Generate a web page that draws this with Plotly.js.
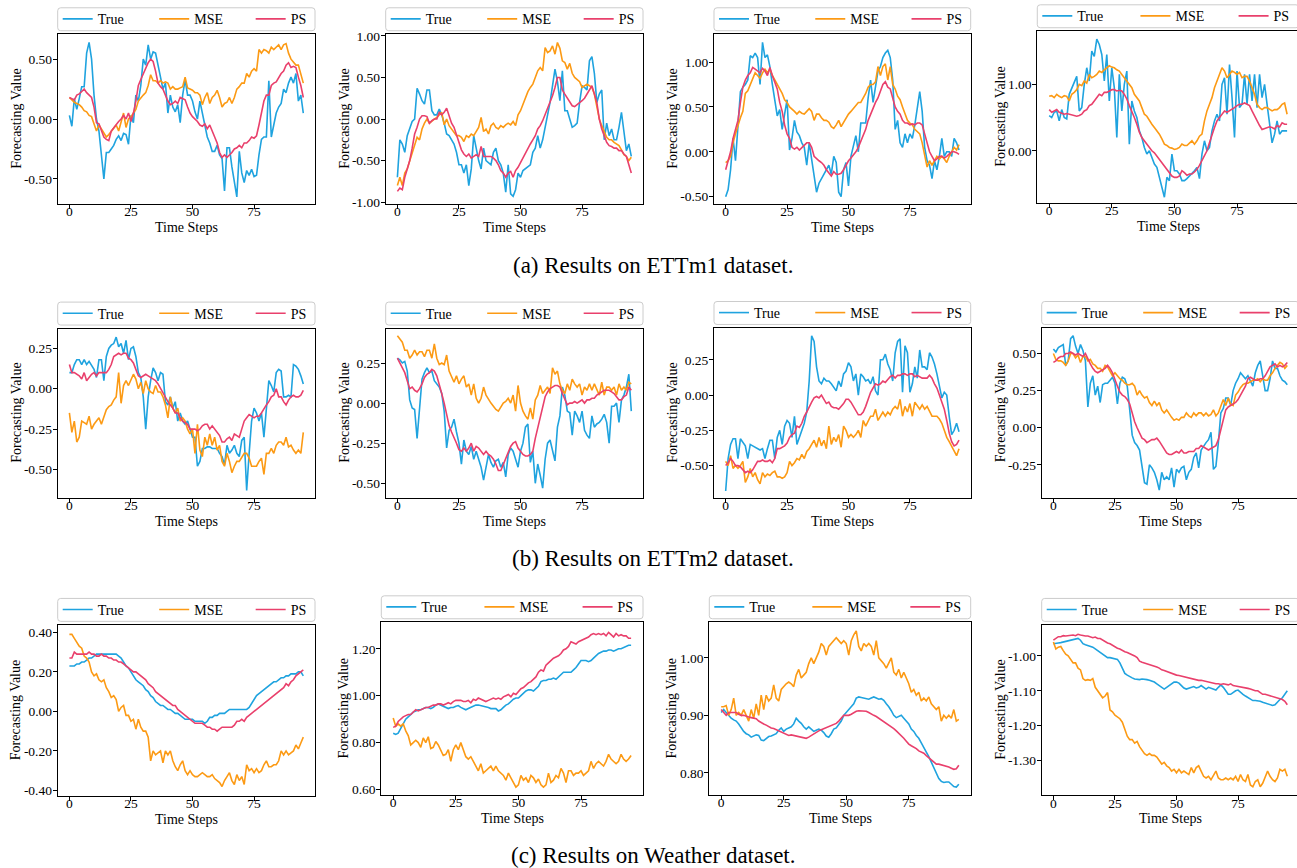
<!DOCTYPE html>
<html><head><meta charset="utf-8">
<script src="https://cdn.plot.ly/plotly-3.0.1.min.js"></script>
<style>html,body{margin:0;padding:0;overflow:hidden;background:#fff;}#chart{width:1300px;height:868px;}</style>
</head><body><div id="chart"></div><script>
// ---------------- DATA ----------------
const steps = [0,1,2,3,4,5,6,7,8,9,10,11,12,13,14,15,16,17,18,19,20,21,22,23,24,25,26,27,28,29,30,31,32,33,34,35,36,37,38,39,40,41,42,43,44,45,46,47,48,49,50,51,52,53,54,55,56,57,58,59,60,61,62,63,64,65,66,67,68,69,70,71,72,73,74,75,76,77,78,79,80,81,82,83,84,85,86,87,88,89,90,91,92,93,94,95];
const seriesNames = ['True','MSE','PS'];
const xTicks = [0,25,50,75];
const xTitle = 'Time Steps';
const yTitle = 'Forecasting Value';
const captions = ['(a) Results on ETTm1 dataset.','(b) Results on ETTm2 dataset.','(c) Results on Weather dataset.'];

// ETTm1 panel 1
const p1True = [0.03,-0.06,0.17,0.08,0.17,0.27,0.27,0.55,0.64,0.50,
0.20,0.00,-0.10,-0.30,-0.50,-0.28,-0.28,-0.25,-0.22,-0.17,
-0.14,-0.18,-0.12,-0.13,-0.21,0.03,-0.03,0.20,0.15,0.28,
0.50,0.45,0.62,0.50,0.56,0.55,0.45,0.35,0.25,0.30,
0.05,0.20,0.10,0.06,0.12,-0.03,0.20,0.33,0.20,0.20,
0.15,0.06,0.00,0.15,0.06,-0.05,-0.15,-0.20,-0.27,-0.27,
-0.22,-0.30,-0.33,-0.60,-0.24,-0.24,-0.40,-0.53,-0.65,-0.27,
-0.45,-0.53,-0.43,-0.47,-0.42,-0.48,-0.47,-0.30,-0.17,-0.15,
-0.15,0.32,-0.15,-0.05,0.05,0.10,0.13,0.25,0.22,0.30,
0.35,0.30,0.38,0.15,0.20,0.05];
const p1MSE = [0.18,0.16,0.14,0.13,0.12,0.10,0.07,0.06,0.03,0.02,
-0.04,-0.10,-0.05,-0.08,-0.12,-0.15,-0.13,-0.10,-0.08,-0.05,
-0.10,-0.02,0.05,-0.07,0.00,0.02,0.05,0.08,0.15,0.18,
0.20,0.22,0.28,0.37,0.32,0.32,0.30,0.32,0.30,0.31,
0.30,0.25,0.27,0.25,0.25,0.26,0.27,0.35,0.26,0.25,
0.24,0.22,0.22,0.20,0.12,0.18,0.22,0.13,0.18,0.20,
0.24,0.18,0.10,0.13,0.14,0.18,0.13,0.18,0.25,0.27,
0.30,0.30,0.38,0.35,0.40,0.42,0.40,0.58,0.55,0.58,
0.57,0.55,0.60,0.58,0.60,0.62,0.58,0.62,0.63,0.55,
0.50,0.47,0.45,0.45,0.38,0.30];
const p1PS = [0.18,0.17,0.16,0.20,0.21,0.23,0.25,0.22,0.20,0.18,
0.10,-0.03,-0.04,-0.10,-0.15,-0.17,-0.18,-0.10,-0.07,-0.05,
-0.02,0.00,0.03,0.00,0.05,-0.02,0.05,0.15,0.28,0.33,
0.38,0.43,0.47,0.50,0.48,0.40,0.30,0.27,0.25,0.20,
0.15,0.12,0.13,0.15,0.13,0.18,0.17,0.16,0.10,0.05,
0.02,0.00,-0.02,-0.05,-0.06,-0.04,-0.08,-0.05,-0.10,-0.15,
-0.20,-0.28,-0.32,-0.30,-0.32,-0.30,-0.28,-0.25,-0.24,-0.22,
-0.24,-0.20,-0.20,-0.18,-0.15,-0.16,-0.14,-0.05,0.05,0.15,
0.20,0.20,0.28,0.30,0.31,0.35,0.38,0.40,0.45,0.47,
0.43,0.44,0.43,0.35,0.28,0.18];

// ETTm1 panel 2
const p2True = [-0.70,-0.25,-0.30,-0.40,-0.20,-0.10,-0.03,0.00,0.37,0.30,
0.22,0.18,0.35,0.35,0.10,0.05,0.05,0.12,0.05,-0.05,
-0.18,-0.20,-0.25,-0.30,-0.40,-0.55,-0.55,-0.65,-0.55,-0.80,
-0.60,-0.20,-0.35,-0.50,-0.60,-0.35,-0.50,-0.52,-0.55,-0.40,
-0.35,-0.50,-0.55,-0.65,-0.88,-0.55,-0.90,-0.93,-0.85,-0.65,
-0.70,-0.62,-0.60,-0.58,-0.55,-0.40,-0.35,-0.20,-0.35,-0.25,
-0.10,0.05,0.20,0.40,0.60,0.45,0.22,0.58,0.10,0.10,
0.00,-0.10,-0.08,-0.05,0.20,0.40,0.38,0.35,0.70,0.75,
0.55,0.20,0.30,0.35,-0.25,-0.05,-0.20,-0.12,-0.25,-0.25,
-0.10,0.08,-0.15,-0.38,-0.30,-0.45];
const p2MSE = [-0.80,-0.70,-0.80,-0.65,-0.60,-0.50,-0.40,-0.30,-0.22,-0.25,
-0.12,-0.05,0.00,-0.05,-0.02,0.00,0.02,0.05,0.08,-0.07,
0.00,-0.08,-0.12,-0.15,-0.20,-0.20,-0.22,-0.27,-0.20,-0.22,
-0.18,-0.20,-0.15,-0.10,0.02,-0.15,-0.12,-0.18,-0.08,-0.05,
-0.10,-0.12,-0.08,-0.10,-0.07,-0.05,-0.07,-0.03,-0.08,0.05,
0.10,0.18,0.25,0.33,0.38,0.42,0.50,0.58,0.62,0.58,
0.86,0.80,0.82,0.88,0.78,0.92,0.85,0.70,0.68,0.60,
0.67,0.55,0.50,0.47,0.45,0.38,0.40,0.42,0.40,0.38,
0.30,0.15,0.00,-0.08,-0.15,-0.22,-0.25,-0.25,-0.28,-0.30,
-0.32,-0.37,-0.43,-0.45,-0.50,-0.46];
const p2PS = [-0.87,-0.83,-0.85,-0.70,-0.60,-0.50,-0.35,-0.18,-0.10,0.00,
0.04,0.04,0.03,-0.05,-0.02,0.00,0.00,0.08,0.05,0.08,
0.13,0.05,-0.05,-0.10,-0.20,-0.30,-0.37,-0.42,-0.45,-0.42,
-0.47,-0.45,-0.43,-0.45,-0.33,-0.45,-0.45,-0.45,-0.45,-0.47,
-0.50,-0.55,-0.62,-0.65,-0.70,-0.65,-0.63,-0.70,-0.62,-0.58,
-0.52,-0.47,-0.42,-0.35,-0.30,-0.25,-0.20,-0.12,-0.08,-0.02,
0.05,0.12,0.20,0.28,0.38,0.50,0.50,0.35,0.30,0.25,
0.20,0.16,0.15,0.17,0.20,0.22,0.25,0.30,0.35,0.40,
0.30,0.20,0.00,-0.12,-0.20,-0.28,-0.32,-0.33,-0.35,-0.35,
-0.38,-0.38,-0.42,-0.45,-0.55,-0.65];

// ETTm1 panel 3
const p3True = [-0.50,-0.42,-0.20,0.15,-0.10,0.30,0.67,0.72,0.75,0.80,
1.07,1.05,1.10,1.05,0.75,1.22,1.05,1.08,0.95,0.75,
0.55,0.40,0.47,0.25,0.42,0.58,0.02,0.15,0.35,0.22,
0.18,0.10,0.05,-0.15,0.10,-0.10,-0.30,-0.45,-0.35,-0.30,
-0.25,-0.20,-0.15,-0.25,-0.05,-0.12,-0.45,-0.50,-0.20,-0.12,
-0.38,-0.05,0.05,0.18,0.00,0.32,0.32,0.32,0.60,0.80,
0.55,0.75,0.90,0.95,1.05,1.10,1.13,1.05,0.80,0.25,
0.35,0.10,0.05,0.20,0.10,0.20,0.15,0.30,0.50,0.67,
0.45,0.05,-0.10,-0.15,-0.30,-0.10,-0.20,-0.05,0.15,-0.05,
0.00,0.00,-0.05,0.15,0.10,0.02];
const p3MSE = [-0.12,-0.10,-0.05,0.10,0.20,0.30,0.38,0.45,0.65,0.68,
0.75,0.82,0.88,0.85,0.82,0.88,0.92,0.88,0.92,0.85,
0.80,0.75,0.70,0.65,0.58,0.55,0.50,0.48,0.45,0.42,
0.45,0.43,0.42,0.45,0.48,0.45,0.35,0.42,0.42,0.38,
0.35,0.35,0.33,0.28,0.26,0.30,0.35,0.28,0.33,0.37,
0.42,0.45,0.48,0.52,0.55,0.55,0.60,0.65,0.72,0.75,
0.75,0.78,0.95,0.85,0.95,0.98,0.80,0.95,0.75,0.70,
0.62,0.58,0.50,0.42,0.35,0.32,0.30,0.25,0.22,0.20,
0.10,-0.05,-0.17,-0.10,-0.15,-0.10,-0.05,-0.08,-0.05,-0.08,
-0.12,-0.05,0.00,0.05,0.02,0.08];
const p3PS = [-0.20,-0.10,0.00,0.15,0.25,0.35,0.55,0.72,0.80,0.85,
0.88,0.94,0.92,0.90,0.88,0.93,0.90,0.85,0.94,0.85,
0.78,0.70,0.55,0.45,0.30,0.20,0.15,0.05,0.03,0.05,
0.02,0.05,0.08,0.10,0.10,0.05,-0.05,-0.08,-0.10,-0.12,
-0.15,-0.20,-0.23,-0.27,-0.22,-0.25,-0.25,-0.24,-0.20,-0.15,
-0.10,-0.07,-0.04,0.00,0.05,0.12,0.18,0.25,0.35,0.42,
0.50,0.55,0.60,0.68,0.75,0.78,0.72,0.70,0.60,0.50,
0.45,0.42,0.35,0.32,0.32,0.30,0.31,0.30,0.32,0.32,
0.30,0.20,0.10,0.00,-0.05,-0.10,-0.08,-0.05,-0.05,-0.07,
-0.05,-0.03,0.00,0.00,-0.01,-0.03];

// ETTm1 panel 4
const p4True = [0.53,0.50,0.58,0.60,0.45,0.62,0.50,0.48,0.85,0.95,
1.05,1.12,0.60,0.65,1.00,1.25,1.05,1.50,1.42,1.68,
1.60,1.45,1.05,1.45,0.75,1.25,0.95,0.20,1.15,0.60,
1.00,1.20,0.10,0.75,0.60,0.50,0.30,0.20,0.05,-0.05,
0.00,-0.10,-0.20,-0.25,-0.40,-0.55,-0.70,-0.40,-0.45,-0.05,
-0.30,-0.30,-0.35,-0.45,-0.45,-0.42,-0.38,-0.35,-0.30,-0.25,
-0.42,-0.05,0.15,0.00,0.05,0.30,0.45,0.55,0.45,1.00,
1.10,0.55,1.30,0.80,0.20,1.20,0.65,0.70,1.15,0.70,
1.15,0.75,1.15,0.65,1.15,0.80,1.00,0.70,0.40,0.12,
0.25,0.45,0.25,0.30,0.30,0.30];
const p4MSE = [0.82,0.83,0.80,0.85,0.82,0.80,0.83,0.82,0.75,0.85,
0.88,0.92,1.00,0.98,1.05,1.02,1.15,1.10,1.12,1.15,
1.20,1.18,1.22,1.25,1.28,1.26,1.25,1.22,1.20,1.15,
1.10,1.05,1.00,0.95,0.85,0.80,0.75,0.65,0.55,0.52,
0.45,0.40,0.35,0.30,0.25,0.18,0.10,0.08,0.05,0.04,
0.02,0.03,0.05,0.10,0.08,0.08,0.12,0.15,0.10,0.15,
0.22,0.25,0.45,0.60,0.70,0.80,0.95,1.05,1.15,1.25,
1.20,1.10,1.15,1.20,1.18,1.15,1.18,1.10,1.12,1.12,
1.05,0.95,0.85,0.70,0.65,0.62,0.65,0.65,0.62,0.60,
0.62,0.62,0.65,0.70,0.72,0.55];
const p4PS = [0.62,0.58,0.60,0.62,0.58,0.57,0.55,0.56,0.55,0.54,
0.53,0.52,0.53,0.55,0.60,0.62,0.68,0.70,0.75,0.80,
0.85,0.83,0.88,0.88,0.90,0.92,0.92,0.90,0.91,0.90,
0.85,0.78,0.68,0.60,0.50,0.40,0.28,0.20,0.15,0.10,
0.05,0.00,-0.03,-0.08,-0.12,-0.18,-0.22,-0.28,-0.33,-0.38,
-0.40,-0.40,-0.38,-0.30,-0.33,-0.37,-0.35,-0.35,-0.32,-0.28,
-0.22,-0.15,-0.08,0.00,0.12,0.25,0.35,0.45,0.50,0.55,
0.60,0.58,0.60,0.62,0.65,0.68,0.70,0.70,0.72,0.70,
0.68,0.60,0.52,0.45,0.38,0.32,0.33,0.35,0.36,0.35,
0.33,0.38,0.36,0.42,0.40,0.40];

// ETTm2 panel 5
const p5True = [0.10,0.10,0.15,0.18,0.18,0.15,0.18,0.15,0.17,0.14,
0.12,0.07,0.18,0.18,0.05,0.20,0.25,0.27,0.28,0.32,
0.26,0.28,0.22,0.30,0.18,0.25,0.26,0.20,0.10,0.07,
-0.05,-0.25,-0.05,0.05,0.13,0.10,0.05,0.10,0.09,-0.08,
-0.10,-0.05,-0.12,-0.08,-0.20,-0.15,-0.20,-0.22,-0.20,-0.25,
-0.30,-0.30,-0.48,-0.45,-0.37,-0.37,-0.36,-0.36,-0.37,-0.37,
-0.37,-0.40,-0.42,-0.47,-0.35,-0.40,-0.38,-0.35,-0.40,-0.42,
-0.32,-0.30,-0.63,-0.40,-0.20,-0.12,-0.15,-0.20,-0.15,-0.30,
-0.10,0.05,0.02,-0.02,0.10,0.12,0.11,-0.05,-0.05,-0.04,
-0.05,0.15,0.14,0.12,0.08,0.03];
const p5MSE = [-0.15,-0.27,-0.20,-0.33,-0.30,-0.20,-0.21,-0.22,-0.17,-0.25,
-0.22,-0.20,-0.18,-0.22,-0.18,-0.13,-0.11,-0.10,-0.07,-0.05,
0.10,-0.09,0.02,0.05,0.02,0.05,0.09,0.06,0.00,0.04,
-0.03,0.05,0.00,-0.02,-0.03,0.02,-0.02,-0.02,-0.05,-0.10,
-0.18,-0.05,-0.12,-0.15,-0.12,-0.20,-0.18,-0.20,-0.25,-0.28,
-0.25,-0.40,-0.22,-0.38,-0.42,-0.30,-0.35,-0.28,-0.35,-0.30,
-0.38,-0.35,-0.45,-0.48,-0.40,-0.45,-0.52,-0.48,-0.45,-0.45,
-0.42,-0.40,-0.40,-0.43,-0.48,-0.48,-0.48,-0.45,-0.43,-0.53,
-0.40,-0.40,-0.37,-0.40,-0.35,-0.33,-0.33,-0.35,-0.30,-0.36,
-0.35,-0.38,-0.40,-0.38,-0.40,-0.27];
const p5PS = [0.15,0.10,0.10,0.09,0.08,0.06,0.10,0.05,0.07,0.09,
0.10,0.08,0.10,0.10,0.10,0.10,0.12,0.15,0.20,0.21,
0.22,0.21,0.22,0.22,0.19,0.18,0.16,0.12,0.08,0.07,
0.08,0.09,0.08,0.07,0.06,0.05,0.03,0.00,-0.02,-0.05,
-0.08,-0.10,-0.12,-0.15,-0.15,-0.18,-0.20,-0.21,-0.22,-0.25,
-0.25,-0.25,-0.26,-0.25,-0.23,-0.22,-0.22,-0.25,-0.23,-0.25,
-0.27,-0.29,-0.33,-0.33,-0.31,-0.30,-0.32,-0.28,-0.29,-0.30,
-0.25,-0.20,-0.18,-0.16,-0.17,-0.18,-0.17,-0.17,-0.15,-0.12,
-0.10,-0.08,-0.05,-0.04,0.00,-0.05,-0.05,-0.08,-0.10,-0.07,
-0.05,-0.04,-0.05,-0.05,-0.04,-0.01];

// ETTm2 panel 6
const p6True = [0.28,0.27,0.25,0.26,0.20,0.02,-0.03,-0.04,-0.22,-0.05,
0.15,0.19,0.22,0.19,0.20,0.14,0.12,0.10,0.06,-0.05,
-0.28,-0.17,-0.15,-0.10,-0.18,-0.25,-0.38,-0.23,-0.30,-0.32,
-0.27,-0.35,-0.30,-0.35,-0.40,-0.48,-0.40,-0.32,-0.37,-0.40,
-0.36,-0.35,-0.40,-0.37,-0.46,-0.32,-0.28,-0.30,-0.35,-0.40,
-0.30,-0.25,-0.15,-0.13,-0.37,-0.30,-0.50,-0.38,-0.45,-0.53,
-0.35,-0.25,-0.23,-0.30,-0.36,-0.15,-0.08,0.10,0.05,-0.05,
-0.06,-0.20,-0.05,-0.08,-0.12,-0.05,-0.17,-0.20,-0.22,-0.08,
-0.15,-0.13,-0.12,-0.10,-0.07,-0.12,-0.25,-0.02,-0.02,0.00,
-0.12,0.02,0.05,0.10,0.18,-0.05];
const p6MSE = [0.42,0.40,0.38,0.33,0.33,0.28,0.30,0.33,0.30,0.32,
0.32,0.29,0.33,0.33,0.28,0.37,0.28,0.24,0.25,0.24,
0.30,0.20,0.17,0.13,0.17,0.12,0.15,0.17,0.10,0.12,
0.05,0.12,0.03,0.00,0.03,0.10,0.05,0.02,0.00,-0.02,
-0.04,-0.05,-0.02,0.00,0.01,0.03,0.00,0.05,-0.05,0.11,
0.00,-0.05,-0.08,-0.10,-0.03,-0.10,0.02,0.05,0.11,0.06,
0.08,0.10,0.06,0.22,0.18,0.20,0.12,0.08,0.06,0.12,
0.08,0.15,0.12,0.10,0.12,0.05,0.10,0.08,0.12,0.08,
0.12,0.08,0.05,0.13,0.05,0.10,0.10,0.08,0.10,0.05,
0.12,0.08,0.10,0.08,0.13,0.12];
const p6PS = [0.28,0.25,0.22,0.19,0.14,0.09,0.10,0.08,0.07,0.09,
0.12,0.16,0.18,0.19,0.21,0.20,0.17,0.12,0.06,0.00,
-0.08,-0.14,-0.18,-0.21,-0.25,-0.29,-0.30,-0.28,-0.30,-0.28,
-0.25,-0.30,-0.27,-0.28,-0.30,-0.32,-0.30,-0.32,-0.33,-0.35,
-0.38,-0.42,-0.42,-0.38,-0.35,-0.31,-0.27,-0.25,-0.24,-0.28,
-0.30,-0.32,-0.33,-0.33,-0.32,-0.30,-0.22,-0.15,-0.08,-0.01,
0.04,0.07,0.09,0.10,0.11,0.11,0.10,0.06,0.02,-0.01,
0.00,0.00,0.01,0.00,0.01,0.02,0.00,0.02,0.02,0.03,
0.03,0.05,0.06,0.07,0.08,0.08,0.08,0.07,0.06,0.04,
0.02,0.02,0.04,0.05,0.10,0.08];

// ETTm2 panel 7
const p7True = [-0.68,-0.45,-0.35,-0.31,-0.31,-0.45,-0.31,-0.34,-0.36,-0.45,
-0.35,-0.36,-0.37,-0.38,-0.39,-0.38,-0.45,-0.38,-0.32,-0.32,
-0.45,-0.30,-0.25,-0.35,-0.22,-0.18,-0.20,-0.30,-0.15,-0.35,
-0.30,-0.24,-0.20,-0.12,0.10,0.42,0.38,0.20,0.10,0.08,
0.12,0.10,0.10,0.08,0.05,0.03,0.10,0.06,0.15,0.17,
0.23,0.20,0.10,0.15,0.00,0.15,0.13,0.10,0.11,0.08,
0.13,0.03,0.00,0.25,0.25,0.29,0.22,0.18,0.10,0.30,
0.38,0.40,0.02,0.35,0.30,0.02,0.08,0.20,0.12,0.32,
0.20,0.20,0.18,0.30,0.27,0.22,0.15,0.05,-0.02,0.02,
0.00,-0.15,-0.28,-0.25,-0.20,-0.26];
const p7MSE = [-0.47,-0.50,-0.43,-0.52,-0.50,-0.52,-0.50,-0.47,-0.62,-0.58,
-0.52,-0.58,-0.55,-0.60,-0.63,-0.55,-0.58,-0.56,-0.57,-0.55,
-0.54,-0.58,-0.58,-0.59,-0.58,-0.55,-0.47,-0.50,-0.48,-0.45,
-0.46,-0.42,-0.45,-0.40,-0.38,-0.35,-0.32,-0.37,-0.30,-0.36,
-0.32,-0.38,-0.22,-0.35,-0.30,-0.33,-0.28,-0.37,-0.22,-0.25,
-0.30,-0.28,-0.30,-0.28,-0.25,-0.30,-0.18,-0.22,-0.18,-0.15,
-0.15,-0.10,-0.18,-0.15,-0.12,-0.15,-0.12,-0.14,-0.10,-0.08,
-0.10,-0.03,-0.15,-0.08,-0.12,-0.06,-0.15,-0.05,-0.08,-0.10,
-0.07,-0.10,-0.08,-0.12,-0.15,-0.15,-0.15,-0.17,-0.20,-0.25,
-0.30,-0.33,-0.36,-0.40,-0.43,-0.38];
const p7PS = [-0.50,-0.48,-0.45,-0.47,-0.50,-0.50,-0.51,-0.53,-0.55,-0.54,
-0.55,-0.53,-0.50,-0.47,-0.47,-0.46,-0.47,-0.47,-0.46,-0.48,
-0.45,-0.38,-0.38,-0.37,-0.36,-0.34,-0.30,-0.28,-0.27,-0.22,
-0.23,-0.20,-0.15,-0.12,-0.08,-0.05,-0.02,-0.01,-0.02,0.00,
-0.03,-0.06,-0.05,-0.08,-0.09,-0.09,-0.10,-0.08,-0.06,-0.03,
-0.03,-0.05,-0.08,-0.12,-0.14,-0.14,-0.12,-0.08,-0.03,0.02,
0.05,0.08,0.07,0.08,0.10,0.09,0.11,0.13,0.14,0.12,
0.14,0.14,0.15,0.15,0.14,0.15,0.15,0.13,0.14,0.13,
0.12,0.12,0.12,0.14,0.12,0.08,0.05,0.00,-0.05,-0.10,
-0.18,-0.27,-0.33,-0.36,-0.35,-0.32];

// ETTm2 panel 8
const p8True = [0.53,0.51,0.54,0.55,0.56,0.42,0.45,0.60,0.62,0.55,
0.50,0.56,0.52,0.45,0.14,0.30,0.35,0.22,0.28,0.17,
0.29,0.30,0.30,0.32,0.34,0.30,0.16,0.30,0.34,0.33,
0.28,0.12,-0.05,-0.10,-0.12,-0.15,-0.25,-0.37,-0.38,-0.25,
-0.27,-0.30,-0.35,-0.42,-0.30,-0.35,-0.33,-0.35,-0.27,-0.40,
-0.28,-0.30,-0.27,-0.26,-0.35,-0.30,-0.28,-0.20,-0.17,-0.27,
-0.15,-0.12,-0.10,-0.08,-0.03,-0.28,-0.26,-0.10,0.10,0.13,
0.20,0.20,0.15,0.25,0.30,0.33,0.37,0.35,0.33,0.35,
0.32,0.28,0.37,0.42,0.45,0.35,0.25,0.25,0.33,0.45,
0.40,0.40,0.35,0.32,0.31,0.29];
const p8MSE = [0.50,0.46,0.45,0.45,0.44,0.42,0.45,0.50,0.50,0.47,
0.49,0.44,0.48,0.48,0.45,0.46,0.43,0.42,0.40,0.40,
0.38,0.42,0.41,0.38,0.35,0.37,0.35,0.33,0.32,0.30,
0.29,0.29,0.30,0.28,0.22,0.25,0.22,0.20,0.21,0.17,
0.15,0.18,0.15,0.17,0.12,0.10,0.12,0.09,0.07,0.05,
0.06,0.05,0.07,0.07,0.10,0.08,0.07,0.10,0.08,0.10,
0.10,0.08,0.10,0.08,0.09,0.12,0.08,0.10,0.15,0.19,
0.15,0.20,0.16,0.15,0.22,0.24,0.27,0.29,0.30,0.30,
0.31,0.32,0.32,0.33,0.31,0.33,0.32,0.32,0.35,0.37,
0.40,0.42,0.44,0.43,0.40,0.42];
const p8PS = [0.44,0.45,0.47,0.48,0.48,0.50,0.50,0.51,0.50,0.49,
0.50,0.49,0.48,0.50,0.46,0.43,0.40,0.38,0.37,0.38,
0.39,0.40,0.42,0.40,0.37,0.32,0.28,0.24,0.22,0.21,
0.19,0.16,0.10,0.04,0.00,-0.04,-0.07,-0.08,-0.10,-0.09,
-0.08,-0.08,-0.07,-0.09,-0.12,-0.15,-0.17,-0.18,-0.18,-0.17,
-0.16,-0.17,-0.15,-0.17,-0.17,-0.16,-0.16,-0.16,-0.14,-0.14,
-0.12,-0.13,-0.14,-0.15,-0.14,-0.13,-0.12,-0.08,-0.01,0.06,
0.12,0.14,0.15,0.16,0.17,0.19,0.22,0.25,0.28,0.33,
0.34,0.33,0.32,0.32,0.33,0.33,0.35,0.38,0.41,0.42,
0.43,0.41,0.42,0.41,0.42,0.44];

// Weather panel 9
const p9True = [0.23,0.23,0.23,0.24,0.24,0.25,0.25,0.26,0.27,0.27,
0.28,0.29,0.29,0.29,0.29,0.29,0.29,0.29,0.29,0.29,
0.28,0.27,0.25,0.23,0.22,0.20,0.18,0.16,0.15,0.14,
0.13,0.11,0.10,0.08,0.07,0.05,0.04,0.03,0.03,0.02,
0.01,0.01,0.00,-0.01,-0.01,-0.02,-0.03,-0.04,-0.04,-0.04,
-0.04,-0.05,-0.05,-0.05,-0.05,-0.06,-0.05,-0.03,-0.03,-0.02,
-0.02,-0.01,-0.01,-0.01,0.00,0.01,0.01,0.01,0.01,0.01,
0.01,0.01,0.01,0.02,0.04,0.06,0.08,0.09,0.10,0.11,
0.12,0.13,0.14,0.15,0.15,0.16,0.17,0.17,0.18,0.18,
0.19,0.19,0.19,0.20,0.20,0.18];
const p9MSE = [0.39,0.39,0.37,0.35,0.33,0.32,0.28,0.27,0.25,0.20,
0.18,0.19,0.16,0.15,0.16,0.12,0.10,0.07,0.08,0.06,
0.00,0.02,0.03,-0.02,-0.02,-0.05,-0.04,-0.09,-0.04,-0.08,
-0.10,-0.10,-0.13,-0.25,-0.20,-0.22,-0.21,-0.20,-0.26,-0.20,
-0.22,-0.20,-0.25,-0.28,-0.30,-0.27,-0.25,-0.30,-0.32,-0.30,
-0.32,-0.33,-0.33,-0.32,-0.31,-0.32,-0.33,-0.33,-0.32,-0.34,
-0.35,-0.36,-0.38,-0.35,-0.33,-0.31,-0.35,-0.37,-0.32,-0.35,
-0.33,-0.37,-0.27,-0.30,-0.29,-0.31,-0.29,-0.31,-0.30,-0.27,
-0.25,-0.28,-0.28,-0.27,-0.27,-0.25,-0.20,-0.22,-0.20,-0.22,
-0.21,-0.20,-0.17,-0.19,-0.16,-0.13];
const p9PS = [0.27,0.27,0.30,0.29,0.29,0.29,0.29,0.29,0.30,0.29,
0.29,0.28,0.28,0.29,0.28,0.28,0.27,0.27,0.26,0.26,
0.25,0.25,0.24,0.23,0.22,0.21,0.20,0.20,0.19,0.18,
0.17,0.16,0.14,0.13,0.12,0.10,0.09,0.08,0.07,0.06,
0.05,0.04,0.03,0.03,0.01,0.00,-0.01,-0.02,-0.03,-0.04,
-0.05,-0.06,-0.06,-0.06,-0.06,-0.07,-0.08,-0.08,-0.09,-0.09,
-0.10,-0.09,-0.08,-0.08,-0.08,-0.08,-0.08,-0.07,-0.05,-0.05,
-0.04,-0.05,-0.03,-0.02,-0.01,0.00,0.01,0.02,0.03,0.04,
0.05,0.06,0.07,0.08,0.09,0.10,0.11,0.12,0.14,0.13,
0.15,0.16,0.18,0.19,0.20,0.21];

// Weather panel 10
const p10True = [0.84,0.835,0.84,0.86,0.88,0.90,0.91,0.92,0.93,0.935,
0.94,0.94,0.945,0.95,0.95,0.945,0.95,0.96,0.965,0.96,
0.955,0.95,0.945,0.95,0.95,0.955,0.958,0.95,0.945,0.94,
0.945,0.95,0.955,0.96,0.96,0.958,0.955,0.955,0.95,0.945,
0.945,0.945,0.935,0.94,0.95,0.96,0.965,0.975,0.985,0.99,
0.99,1.00,1.01,1.02,1.025,1.025,1.02,1.03,1.04,1.06,
1.065,1.065,1.07,1.07,1.075,1.07,1.08,1.09,1.10,1.10,
1.10,1.10,1.11,1.12,1.135,1.15,1.15,1.15,1.145,1.15,
1.16,1.17,1.18,1.185,1.19,1.19,1.195,1.195,1.19,1.195,
1.20,1.20,1.205,1.21,1.215,1.215];
const p10MSE = [0.905,0.87,0.88,0.87,0.88,0.85,0.83,0.79,0.80,0.81,
0.80,0.78,0.82,0.80,0.825,0.775,0.78,0.805,0.79,0.77,
0.745,0.75,0.77,0.72,0.77,0.79,0.77,0.80,0.77,0.74,
0.73,0.74,0.72,0.70,0.68,0.71,0.67,0.68,0.69,0.70,
0.68,0.70,0.68,0.67,0.66,0.64,0.67,0.65,0.63,0.61,
0.62,0.66,0.64,0.65,0.63,0.66,0.65,0.63,0.645,0.62,
0.61,0.62,0.67,0.63,0.64,0.66,0.65,0.69,0.67,0.63,
0.68,0.68,0.66,0.67,0.67,0.68,0.66,0.67,0.68,0.72,
0.69,0.71,0.72,0.71,0.70,0.72,0.75,0.73,0.72,0.71,
0.72,0.75,0.73,0.72,0.73,0.745];
const p10PS = [0.865,0.87,0.89,0.90,0.91,0.915,0.92,0.92,0.93,0.94,
0.935,0.94,0.945,0.95,0.95,0.955,0.96,0.96,0.965,0.965,
0.96,0.965,0.97,0.965,0.975,0.98,0.98,0.98,0.975,0.975,
0.98,0.97,0.985,0.98,0.99,0.985,0.98,0.975,0.98,0.985,
0.99,0.985,0.99,0.985,0.995,1.00,1.005,0.995,1.01,1.005,
1.02,1.03,1.035,1.045,1.055,1.06,1.07,1.08,1.10,1.11,
1.105,1.13,1.14,1.15,1.16,1.165,1.17,1.18,1.195,1.20,
1.21,1.23,1.225,1.22,1.23,1.235,1.24,1.245,1.25,1.26,
1.265,1.26,1.265,1.26,1.265,1.255,1.27,1.26,1.25,1.265,
1.255,1.26,1.255,1.255,1.245,1.245];

// Weather panel 11
const p11True = [0.905,0.91,0.905,0.90,0.895,0.892,0.89,0.885,0.878,0.872,
0.868,0.866,0.862,0.864,0.866,0.865,0.857,0.856,0.86,0.863,
0.864,0.866,0.868,0.874,0.878,0.872,0.876,0.878,0.88,0.885,
0.895,0.89,0.886,0.88,0.876,0.88,0.876,0.872,0.874,0.876,
0.874,0.87,0.864,0.862,0.868,0.876,0.878,0.884,0.89,0.90,
0.905,0.91,0.915,0.92,0.93,0.932,0.931,0.93,0.929,0.928,
0.93,0.932,0.93,0.928,0.929,0.926,0.92,0.915,0.908,0.90,
0.896,0.898,0.90,0.895,0.89,0.885,0.876,0.872,0.865,0.86,
0.852,0.845,0.836,0.828,0.818,0.808,0.798,0.79,0.785,0.783,
0.784,0.784,0.78,0.776,0.775,0.78];
const p11MSE = [0.915,0.915,0.917,0.90,0.91,0.93,0.90,0.905,0.90,0.91,
0.90,0.89,0.91,0.895,0.92,0.90,0.935,0.91,0.935,0.925,
0.93,0.953,0.93,0.925,0.945,0.95,0.955,0.958,0.955,0.95,
0.97,0.98,0.965,0.97,0.975,0.99,1.00,0.99,1.00,1.01,
1.025,1.02,1.005,1.02,1.025,1.03,1.035,1.03,1.025,1.03,
1.025,1.005,1.03,1.04,1.047,1.02,1.012,1.025,1.02,1.025,
1.02,1.005,1.03,1.00,0.995,0.99,0.982,0.99,1.00,0.975,
0.97,0.98,0.965,0.975,0.965,0.955,0.94,0.945,0.935,0.94,
0.925,0.93,0.925,0.932,0.92,0.915,0.91,0.915,0.89,0.90,
0.895,0.90,0.895,0.91,0.89,0.893];
const p11PS = [0.91,0.905,0.90,0.905,0.905,0.905,0.905,0.902,0.90,0.90,
0.898,0.897,0.896,0.895,0.894,0.89,0.887,0.885,0.883,0.88,
0.878,0.877,0.875,0.873,0.872,0.87,0.868,0.865,0.866,0.865,
0.863,0.862,0.862,0.861,0.86,0.862,0.865,0.868,0.87,0.873,
0.875,0.877,0.878,0.88,0.882,0.884,0.886,0.89,0.895,0.90,
0.90,0.90,0.902,0.905,0.907,0.908,0.908,0.908,0.907,0.905,
0.902,0.90,0.898,0.895,0.893,0.89,0.887,0.884,0.88,0.877,
0.873,0.869,0.865,0.86,0.855,0.85,0.847,0.845,0.842,0.838,
0.836,0.834,0.83,0.826,0.822,0.818,0.815,0.815,0.814,0.813,
0.812,0.81,0.808,0.806,0.807,0.813];

// Weather panel 12
const p12True = [-0.965,-0.965,-0.963,-0.962,-0.96,-0.958,-0.957,-0.955,-0.953,-0.952,
-0.95,-0.955,-0.965,-0.968,-0.97,-0.972,-0.975,-0.98,-0.985,-0.99,
-0.995,-1.0,-1.005,-1.005,-1.006,-1.008,-1.01,-1.02,-1.035,-1.05,
-1.055,-1.06,-1.063,-1.066,-1.068,-1.068,-1.066,-1.066,-1.068,-1.07,
-1.072,-1.075,-1.08,-1.085,-1.09,-1.095,-1.09,-1.085,-1.078,-1.075,
-1.075,-1.078,-1.085,-1.092,-1.095,-1.092,-1.09,-1.088,-1.092,-1.09,
-1.085,-1.09,-1.095,-1.09,-1.092,-1.095,-1.098,-1.09,-1.083,-1.09,
-1.10,-1.11,-1.11,-1.105,-1.10,-1.098,-1.105,-1.11,-1.115,-1.12,
-1.125,-1.128,-1.128,-1.128,-1.13,-1.133,-1.135,-1.138,-1.14,-1.142,
-1.14,-1.132,-1.125,-1.12,-1.11,-1.10];
const p12MSE = [-0.96,-0.98,-0.975,-0.973,-0.985,-0.995,-1.0,-1.01,-1.02,-1.02,
-1.035,-1.04,-1.065,-1.07,-1.068,-1.07,-1.065,-1.09,-1.10,-1.11,
-1.12,-1.115,-1.105,-1.155,-1.16,-1.17,-1.175,-1.18,-1.19,-1.21,
-1.23,-1.24,-1.24,-1.25,-1.245,-1.26,-1.27,-1.28,-1.285,-1.28,
-1.285,-1.285,-1.29,-1.30,-1.31,-1.305,-1.315,-1.32,-1.33,-1.325,
-1.335,-1.325,-1.335,-1.33,-1.335,-1.34,-1.32,-1.335,-1.32,-1.315,
-1.33,-1.345,-1.35,-1.345,-1.355,-1.34,-1.33,-1.35,-1.355,-1.355,
-1.35,-1.355,-1.35,-1.355,-1.345,-1.36,-1.34,-1.355,-1.36,-1.34,
-1.37,-1.375,-1.36,-1.355,-1.375,-1.365,-1.35,-1.33,-1.345,-1.355,
-1.36,-1.35,-1.325,-1.33,-1.325,-1.345];
const p12PS = [-0.955,-0.95,-0.945,-0.945,-0.942,-0.943,-0.942,-0.943,-0.94,-0.942,
-0.938,-0.94,-0.942,-0.943,-0.943,-0.945,-0.948,-0.946,-0.95,-0.95,
-0.955,-0.96,-0.963,-0.965,-0.97,-0.975,-0.978,-0.98,-0.985,-0.988,
-0.99,-0.993,-0.995,-1.0,-1.005,-1.015,-1.018,-1.02,-1.022,-1.025,
-1.028,-1.03,-1.032,-1.035,-1.04,-1.042,-1.045,-1.048,-1.05,-1.052,
-1.055,-1.056,-1.058,-1.06,-1.062,-1.063,-1.065,-1.066,-1.068,-1.07,
-1.07,-1.072,-1.074,-1.076,-1.077,-1.078,-1.08,-1.08,-1.082,-1.08,
-1.082,-1.083,-1.08,-1.085,-1.086,-1.087,-1.088,-1.09,-1.092,-1.093,
-1.095,-1.098,-1.10,-1.10,-1.105,-1.11,-1.11,-1.112,-1.115,-1.118,
-1.12,-1.122,-1.123,-1.125,-1.13,-1.14];

// y tick values per panel
const p1Ticks = [-0.5,0,0.5];
const p2Ticks = [-1,-0.5,0,0.5,1];
const p3Ticks = [-0.5,0,0.5,1];
const p4Ticks = [0,1];
const p5Ticks = [-0.5,-0.25,0,0.25];
const p6Ticks = [-0.5,-0.25,0,0.25];
const p7Ticks = [-0.5,-0.25,0,0.25];
const p8Ticks = [-0.25,0,0.25,0.5];
const p9Ticks = [-0.4,-0.2,0,0.2,0.4];
const p10Ticks = [0.6,0.8,1.0,1.2];
const p11Ticks = [0.8,0.9,1.0];
const p12Ticks = [-1.3,-1.2,-1.1,-1.0];

// ---------------- LAYOUT ----------------
const W = 1300, H = 868;
const FONT = 'Liberation Serif';
const colors = {True:'#1fa3df', MSE:'#fc9a14', PS:'#e9406c'};

// box: [left, right, top, bottom] in px; ytx: x (px) of y-axis title centre
const panels = [
  {s:[p1True,p1MSE,p1PS], ticks:p1Ticks, yr:[-0.708,0.708], box:[57.7,315,32.3,202.3], ytx:15.7},
  {s:[p2True,p2MSE,p2PS], ticks:p2Ticks, yr:[-1.02,1.02], box:[385.7,643,32.3,202.3], ytx:343.7},
  {s:[p3True,p3MSE,p3PS], ticks:p3Ticks, yr:[-0.58,1.31], box:[714,970.7,32.3,202.3], ytx:671.7},
  {s:[p4True,p4MSE,p4PS], ticks:p4Ticks, yr:[-0.79,1.80], box:[1037.3,1299,29.3,201.7], ytx:1000.5},
  {s:[p5True,p5MSE,p5PS], ticks:p5Ticks, yr:[-0.674,0.373], box:[57.7,315,327.3,496.7], ytx:15.7},
  {s:[p6True,p6MSE,p6PS], ticks:p6Ticks, yr:[-0.589,0.465], box:[385.7,643,327.3,496.7], ytx:343.7},
  {s:[p7True,p7MSE,p7PS], ticks:p7Ticks, yr:[-0.731,0.476], box:[714,970.7,326.7,497.3], ytx:671.7},
  {s:[p8True,p8MSE,p8PS], ticks:p8Ticks, yr:[-0.47,0.672], box:[1041.7,1299,326.7,496.7], ytx:1000.5},
  {s:[p9True,p9MSE,p9PS], ticks:p9Ticks, yr:[-0.429,0.438], box:[57.7,315,624.3,796], ytx:15.7},
  {s:[p10True,p10MSE,p10PS], ticks:p10Ticks, yr:[0.576,1.313], box:[381.3,643,621.7,795], ytx:343.7},
  {s:[p11True,p11MSE,p11PS], ticks:p11Ticks, yr:[0.761,1.062], box:[709.3,970.7,621.7,795], ytx:671.7},
  {s:[p12True,p12MSE,p12PS], ticks:p12Ticks, yr:[-1.40,-0.911], box:[1041.7,1299,624.3,795.3], ytx:1000.5}
];

function roundRect(x0,y0,x1,y1,rad){
  const X=v=>(v/W).toFixed(5), Y=v=>(1-v/H).toFixed(5);
  return 'M'+X(x0+rad)+','+Y(y0)+' L'+X(x1-rad)+','+Y(y0)+' Q'+X(x1)+','+Y(y0)+' '+X(x1)+','+Y(y0+rad)+
    ' L'+X(x1)+','+Y(y1-rad)+' Q'+X(x1)+','+Y(y1)+' '+X(x1-rad)+','+Y(y1)+
    ' L'+X(x0+rad)+','+Y(y1)+' Q'+X(x0)+','+Y(y1)+' '+X(x0)+','+Y(y1-rad)+
    ' L'+X(x0)+','+Y(y0+rad)+' Q'+X(x0)+','+Y(y0)+' '+X(x0+rad)+','+Y(y0)+' Z';
}

const traces = [];
const layout = {
  width:W, height:H, margin:{l:0,r:0,t:0,b:0,pad:0},
  paper_bgcolor:'#ffffff', plot_bgcolor:'#ffffff',
  font:{family:FONT, size:14, color:'#000'},
  showlegend:true, hovermode:false,
  shapes:[], annotations:[]
};

panels.forEach((pn,i)=>{
  const k = i+1, sfx = k===1 ? '' : String(k);
  const xa='x'+sfx, ya='y'+sfx, lkey='legend'+sfx;
  const [l,r,t,b] = pn.box;
  const axCommon = {showline:true, linecolor:'#000', linewidth:1, mirror:true, showgrid:false, zeroline:false,
    ticks:'outside', ticklen:4, tickwidth:1, tickcolor:'#000', tickfont:{family:FONT,size:13.5,color:'#000'}};
  layout['xaxis'+sfx] = Object.assign({}, axCommon, {domain:[l/W, r/W], anchor:ya, range:[-4.75,99.75],
    tickvals:xTicks, ticktext:xTicks.map(String), ticklabelstandoff:-9});
  layout['yaxis'+sfx] = Object.assign({}, axCommon, {domain:[1-b/H, 1-t/H], anchor:xa, range:pn.yr,
    tickvals:pn.ticks, ticktext:pn.ticks.map(v=>v.toFixed(2)), ticklabelstandoff:-2});
  const spacing = (r-l)*0.375;
  pn.s.forEach((vals,j)=>{
    const name = seriesNames[j];
    const tr = {type:'scatter', mode:'lines', x:steps, y:vals, name:name, xaxis:xa, yaxis:ya,
      legend:lkey, showlegend:true, line:{color:colors[name], width:1.6}, hoverinfo:'skip'};
    if(j<2) tr.legendwidth = spacing-45;
    traces.push(tr);
  });
  const boxTop = t-26.5, boxBot = t-3.5;
  layout[lkey] = {orientation:'h', x:l/W, xanchor:'left', y:1-((boxTop+boxBot)/2)/H, yanchor:'middle',
    bgcolor:'rgba(0,0,0,0)', borderwidth:0, font:{family:FONT,size:14,color:'#000'}, traceorder:'normal', itemwidth:30};
  layout.shapes.push({type:'path', xref:'paper', yref:'paper', path:roundRect(l, boxTop, Math.min(r, W+4), boxBot, 3),
    line:{color:'#cccccc', width:1}, fillcolor:'#ffffff', layer:'below'});
  // axis titles
  layout.annotations.push({xref:'paper', yref:'paper', x:((l+Math.min(r,1299))/2)/W, y:1-(b+23.5)/H, text:xTitle,
    showarrow:false, xanchor:'center', yanchor:'middle', font:{family:FONT,size:14,color:'#000'}});
  layout.annotations.push({xref:'paper', yref:'paper', x:pn.ytx/W, y:1-((t+b)/2)/H, text:yTitle, textangle:-90,
    showarrow:false, xanchor:'center', yanchor:'middle', font:{family:FONT,size:14,color:'#000'}});
});

const captionY = [264, 558, 855];
captions.forEach((c,i)=>{
  layout.annotations.push({xref:'paper', yref:'paper', x:653/W, y:1-captionY[i]/H, text:c, showarrow:false,
    xanchor:'center', yanchor:'middle', font:{family:FONT, size:23, color:'#000'}});
});

Plotly.newPlot('chart', traces, layout, {displayModeBar:false, staticPlot:true});
</script></body></html>
